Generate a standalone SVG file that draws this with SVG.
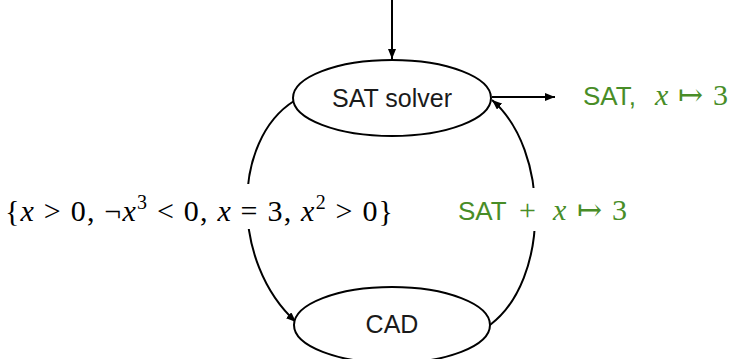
<svg xmlns="http://www.w3.org/2000/svg" width="732" height="359" viewBox="0 0 732 359">
<style>
.node{fill:#fff;stroke:#000;stroke-width:2}
.lbl{font-family:"Liberation Sans","DejaVu Sans",sans-serif;font-size:25px;fill:#1a1a1a}
.edge{fill:none;stroke:#000;stroke-width:2}
.math{font-family:"Liberation Serif","DejaVu Serif",serif;font-size:30px;fill:#000}
.green{fill:#488d27}
.gsans{font-family:"Liberation Sans","DejaVu Sans",sans-serif;font-size:26px}
.it{font-style:italic}
.sup{font-size:20px}
</style>
<defs>
<marker id="arr" viewBox="0 0 10 8" refX="10" refY="4" markerWidth="10" markerHeight="8" markerUnits="userSpaceOnUse" orient="auto">
<path d="M0,0 L10,4 L0,8 Z" fill="#000"/>
</marker>
</defs>
<g id="connectors">
<line class="edge" x1="392" y1="0" x2="392" y2="59" marker-end="url(#arr)"/>
<line class="edge" x1="492" y1="97" x2="555" y2="97" marker-end="url(#arr)"/>
<path class="edge" d="M294,101 C232,140 230,262 296,322" marker-end="url(#arr)"/>
<path class="edge" d="M490,325 C550,280 550,150 492,100" marker-end="url(#arr)"/>
</g>
<g id="sat-solver">
<ellipse class="node" cx="392" cy="98" rx="99" ry="38"/>
<text class="lbl" x="392" y="107" text-anchor="middle">SAT solver</text>
</g>
<g id="cad">
<ellipse class="node" cx="392" cy="325" rx="98" ry="38"/>
<text class="lbl" x="392" y="333" text-anchor="middle">CAD</text>
</g>
<g id="label-constraints">
<rect x="4" y="184" width="394" height="45" fill="#fff"/>
<text class="math" x="5" y="221" textLength="388" lengthAdjust="spacing">{<tspan class="it">x</tspan> &gt; 0, ¬<tspan class="it">x</tspan><tspan class="sup" dy="-12">3</tspan><tspan dy="12"> &lt; 0, </tspan><tspan class="it">x</tspan> = 3, <tspan class="it">x</tspan><tspan class="sup" dy="-12">2</tspan><tspan dy="12"> &gt; 0}</tspan></text>
</g>
<g id="label-sat-result">
<rect x="455" y="188" width="176" height="43" fill="#fff"/>
<text class="math green" y="220"><tspan class="gsans" x="458">SAT</tspan><tspan x="519">+</tspan><tspan class="it" x="553">x</tspan><tspan x="577">↦</tspan><tspan x="612">3</tspan></text>
</g>
<g id="label-output">
<text class="math green" y="105"><tspan class="gsans" x="583">SAT,</tspan><tspan class="it" x="655">x</tspan><tspan x="678">↦</tspan><tspan x="713">3</tspan></text>
</g>
</svg>
